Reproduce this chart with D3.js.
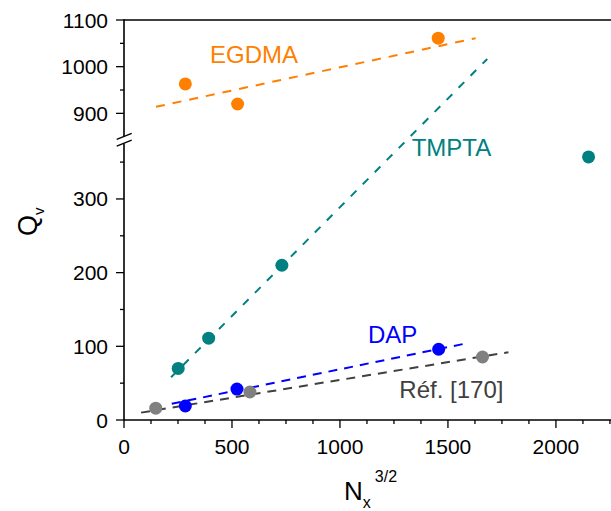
<!DOCTYPE html>
<html><head><meta charset="utf-8">
<script src="https://cdn.jsdelivr.net/npm/d3@7"></script>
<style>body{margin:0;background:#fff}svg{display:block}text{font-family:"Liberation Sans",Arial,sans-serif}</style>
</head><body><svg id="c" width="611" height="511"></svg>
<script>
// ---- data ----
const egdmaX = [284, 526, 1455];
const egdmaY = [963, 920, 1061];
const egdmaFitX = [148, 1628];
const egdmaFitY = [914, 1061];

const tmptaX = [251, 392, 731, 2151];
const tmptaY = [70, 111, 210, 357];
const tmptaFitX = [218, 1682];
const tmptaFitY = [58, 490];

const dapX = [284, 523, 1457];
const dapY = [19, 42, 96];
const dapFitX = [221, 1568];
const dapFitY = [22, 103];

const refX = [147, 583, 1660];
const refY = [16, 38, 85.5];
const refFitX = [79, 1780];
const refFitY = [10, 92];

const xTicks = [0, 500, 1000, 1500, 2000];
const yLowTicks = [0, 100, 200, 300];
const yHighTicks = [900, 1000, 1100];

const labels = [
  {text: "EGDMA", x: 398, y: 1008, seg: "high", color: "#ff7f00"},
  {text: "TMPTA", x: 1332, y: 358, seg: "low", color: "#008080"},
  {text: "DAP", x: 1130, y: 104, seg: "low", color: "#0000ff"},
  {text: "Réf. [170]", x: 1275, y: 29.5, seg: "low", color: "#404040"}
];

// ---- scales ----
const svg = d3.select("#c");
const x = d3.scaleLinear().domain([0, 2255]).range([124, 611]);
const yLow = d3.scaleLinear().domain([0, 380]).range([420, 140]);
const yHigh = d3.scaleLinear().domain([850, 1100]).range([136.7, 20]);

const axisColor = "#000";
// top border
svg.append("line").attr("x1", 124).attr("x2", 611).attr("y1", yHigh(1100)).attr("y2", yHigh(1100))
  .attr("stroke", axisColor).attr("stroke-width", 1.6);

// bottom axis
const xAxis = svg.append("g").attr("transform", "translate(0,420)");
xAxis.append("line").attr("x1", 124).attr("x2", 611).attr("stroke", axisColor).attr("stroke-width", 1.6);
const xMinor = d3.range(0, 2251, 125);
xAxis.selectAll(".xm").data(xMinor).join("line")
  .attr("x1", d => x(d)).attr("x2", d => x(d)).attr("y1", 0)
  .attr("y2", d => xTicks.includes(d) ? 8 : 4).attr("stroke", axisColor).attr("stroke-width", 1.3);
xAxis.selectAll(".xl").data(xTicks).join("text")
  .attr("x", d => x(d)).attr("y", 33.5).attr("text-anchor", "middle")
  .attr("font-size", 21).text(d => d);

// left axis (broken)
const yAxis = svg.append("g");
yAxis.append("line").attr("x1", 124).attr("x2", 124).attr("y1", yHigh(1100) - 0.8).attr("y2", 136.5)
  .attr("stroke", axisColor).attr("stroke-width", 1.6);
yAxis.append("line").attr("x1", 124).attr("x2", 124).attr("y1", 143.5).attr("y2", 420.8)
  .attr("stroke", axisColor).attr("stroke-width", 1.6);
// break marks
[0, 6.8].forEach(o => {
  yAxis.append("line").attr("x1", 116.7).attr("x2", 131.7)
    .attr("y1", 139.3 + o).attr("y2", 133.3 + o).attr("stroke", axisColor).attr("stroke-width", 1.3);
});
const lowMinor = d3.range(0, 351, 50);
yAxis.selectAll(".ylm").data(lowMinor).join("line")
  .attr("y1", d => yLow(d)).attr("y2", d => yLow(d)).attr("x1", 124)
  .attr("x2", d => yLowTicks.includes(d) ? 116 : 120).attr("stroke", axisColor).attr("stroke-width", 1.3);
const highMinor = d3.range(900, 1101, 50);
yAxis.selectAll(".yhm").data(highMinor).join("line")
  .attr("y1", d => yHigh(d)).attr("y2", d => yHigh(d)).attr("x1", 124)
  .attr("x2", d => yHighTicks.includes(d) ? 116 : 120).attr("stroke", axisColor).attr("stroke-width", 1.3);
yAxis.selectAll(".yll").data(yLowTicks).join("text")
  .attr("x", 108).attr("y", d => yLow(d) + 7.5).attr("text-anchor", "end").attr("font-size", 21).text(d => d);
yAxis.selectAll(".yhl").data(yHighTicks).join("text")
  .attr("x", 108).attr("y", d => yHigh(d) + 7.5).attr("text-anchor", "end").attr("font-size", 21).text(d => d);

// axis titles
const yt = svg.append("text").attr("transform", "translate(37,236) rotate(-90)").attr("font-size", 27);
yt.append("tspan").text("Q");
yt.append("tspan").attr("font-size", 15).attr("dy", 7).text("v");
const xt = svg.append("text").attr("x", 344).attr("y", 500).attr("font-size", 26);
xt.append("tspan").text("N");
xt.append("tspan").attr("font-size", 16).attr("dy", 8).text("x");
xt.append("tspan").attr("font-size", 16).attr("dy", -26).attr("dx", 4).text("3/2");

// fit lines
function fitLine(xs, ys, ys_scale, color, dash) {
  svg.append("line")
    .attr("x1", x(xs[0])).attr("y1", ys_scale(ys[0]))
    .attr("x2", x(xs[1])).attr("y2", ys_scale(ys[1]))
    .attr("stroke", color).attr("stroke-width", 2).attr("stroke-dasharray", dash);
}
fitLine(egdmaFitX, egdmaFitY, yHigh, "#ff7f00", "9,8");
fitLine(tmptaFitX, tmptaFitY, yLow, "#008080", "8,9");
fitLine(dapFitX, dapFitY, yLow, "#0000ff", "9,7");
fitLine(refFitX, refFitY, yLow, "#404040", "9,7");

// points
function pts(xs, ys, ys_scale, color) {
  svg.append("g").selectAll("circle").data(xs.map((d, i) => [d, ys[i]])).join("circle")
    .attr("cx", d => x(d[0])).attr("cy", d => ys_scale(d[1])).attr("r", 6.5).attr("fill", color);
}
pts(refX, refY, yLow, "#808080");
pts(dapX, dapY, yLow, "#0000ff");
pts(tmptaX, tmptaY, yLow, "#008080");
pts(egdmaX, egdmaY, yHigh, "#ff7f00");

// labels
svg.selectAll(".lab").data(labels).join("text")
  .attr("x", d => x(d.x)).attr("y", d => (d.seg === "high" ? yHigh : yLow)(d.y))
  .attr("font-size", 24).attr("fill", d => d.color).text(d => d.text);
</script></body></html>
